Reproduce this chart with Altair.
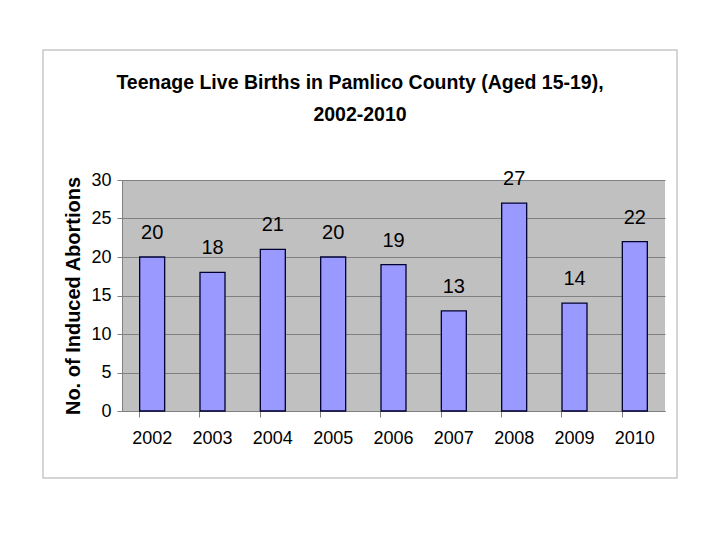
import altair as alt
import pandas as pd

years = ["2002", "2003", "2004", "2005", "2006", "2007", "2008", "2009", "2010"]
values = [20, 18, 21, 20, 19, 13, 27, 14, 22]
title_lines = ["Teenage Live Births in Pamlico County (Aged 15-19),", "2002-2010"]

df = pd.DataFrame({"year": years, "value": values})
one = pd.DataFrame({"k": [0]})

W, H = 543, 231
FONT = "Liberation Sans"

x = alt.X("year:N", title=None, sort=years,
          scale=alt.Scale(paddingInner=0.58, paddingOuter=0.29),
          axis=alt.Axis(labelAngle=0, labelFontSize=18, labelColor="black", labelFont=FONT,
                        labelPadding=12, tickColor="#808080", tickSize=6, bandPosition=0,
                        domainColor="#808080", grid=False))
y = alt.Y("value:Q", title="No. of Induced Abortions",
          scale=alt.Scale(domain=[0, 30], nice=False),
          axis=alt.Axis(values=[0, 5, 10, 15, 20, 25, 30], labelFontSize=18, labelColor="black",
                        labelFont=FONT, labelPadding=6, tickColor="#808080", tickSize=5,
                        labelOverlap=False,
                        domainColor="#808080", grid=True, gridColor="#808080", gridWidth=1,
                        titleFont=FONT, titleFontSize=20, titleFontWeight="bold",
                        titleColor="black", titlePadding=7))

frame = alt.Chart(one).mark_rect(fill="transparent", stroke="#c8c8c8", strokeWidth=1.5).encode(
    x=alt.value(-79), x2=alt.value(555), y=alt.value(-130), y2=alt.value(298)
)

title = alt.Chart(one).mark_text(
    text=title_lines, fontSize=19.5, font=FONT, fontWeight="bold", color="black",
    align="center", baseline="middle", lineHeight=32
).encode(x=alt.value(238), y=alt.value(-97))

bars = alt.Chart(df).mark_bar(size=25, color="#9999FF", stroke="#000033", strokeWidth=1.3).encode(
    x=x, y=y
)

labels = alt.Chart(df).mark_text(baseline="bottom", dy=-14, fontSize=20, font=FONT, color="black").encode(
    x=x, y=y, text=alt.Text("value:Q")
)

chart = alt.layer(frame, title, bars, labels).properties(
    width=W, height=H,
    autosize=alt.AutoSizeParams(type="none"),
    padding={"left": 114, "top": 172, "right": 40, "bottom": 80},
).configure_view(stroke=None, fill="#C0C0C0")

chart.save("out.html", embed_options={"renderer": "svg", "actions": False})
